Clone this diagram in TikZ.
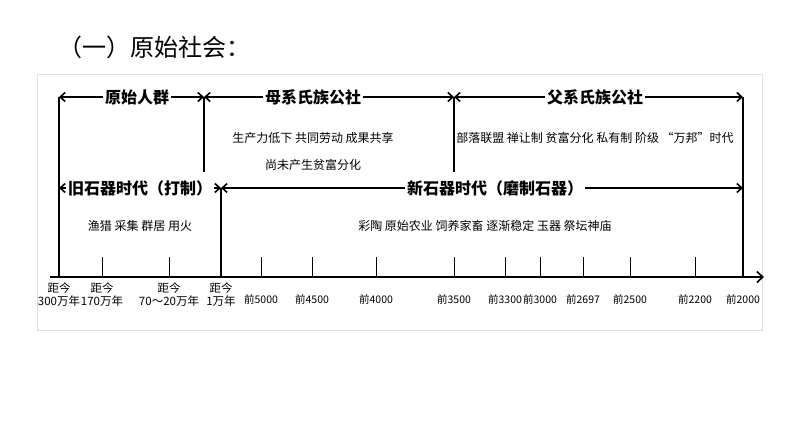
\documentclass[tikz,border=0pt]{standalone}
\usepackage{fontspec}
\setmainfont{Liberation Serif}
\newfontfamily\cjk{Noto Sans CJK SC}
\usetikzlibrary{arrows.meta}
\begin{document}
\begin{tikzpicture}[x=1pt,y=-1pt,
  ln/.style={line width=1.6pt},
  ar/.style={ln,-{Straight Barb[length=5pt,width=9pt]}},
  lab/.style={fill=white,inner sep=2pt,font=\cjk\fontsize{16}{16}\selectfont\bfseries},
  txt/.style={font=\cjk\fontsize{12}{13}\selectfont},
  tl/.style={font=\cjk\fontsize{11.5}{13}\selectfont,align=center,anchor=north,inner sep=0pt}]
\useasboundingbox (0,0) rectangle (794,447);
\fill[white] (0,0) rectangle (794,447);
\draw[gray!25,line width=1pt] (37,74) rectangle (762,330);
\node[anchor=west,font=\cjk\fontsize{24}{24}\selectfont] (title) at (55,47) {（一）原始社会：};
% axis
\coordinate (a0) at (50,277); \coordinate (a1) at (764,277);
\draw[ln,-{Straight Barb[length=6pt,width=11pt]}] (a0) -- (a1);
\foreach \x in {102,169,261,312,376,454,505,540,583,630,695}{\draw[line width=0.8pt] (\x,257) -- (\x,277);}
\coordinate (p59t) at (59,97); \coordinate (p59b) at (59,277);
\coordinate (p204t) at (204,97); \coordinate (p204b) at (204,172);
\coordinate (p454t) at (454,97); \coordinate (p454b) at (454,172);
\coordinate (p743t) at (743,97); \coordinate (p743b) at (743,277);
\coordinate (p221t) at (221,188); \coordinate (p221b) at (221,277);
\coordinate (q59) at (59,188); \coordinate (q743) at (743,188);
\draw[ln] (p59t) -- (p59b); \draw[ln] (p204t)--(p204b); \draw[ln] (p454t)--(p454b);
\draw[ln] (p743t)--(p743b); \draw[ln] (p221t)--(p221b);
% row 1
\draw[ar] (137,97) -- (p59t); \draw[ar] (137,97) -- (p204t);
\draw[ar] (313,97) -- (p204t); \draw[ar] (313,97) -- (p454t);
\draw[ar] (595,97) -- (p454t); \draw[ar] (595,97) -- (p743t);
\node[lab] (l1) at (137,97) {原始人群};
\node[lab] (l2) at (313,97) {母系氏族公社};
\node[lab] (l3) at (595,97) {父系氏族公社};
% row 2
\draw[ar] (140,188) -- (q59); \draw[ar] (140,188) -- (p221t);
\draw[ar] (495,188) -- (p221t); \draw[ar] (495,188) -- (q743);
\node[lab] (l4) at (140,188) {旧石器时代（打制）};
\node[lab] (l5) at (495,188) {新石器时代（磨制石器）};
% texts
\node[txt] (t1) at (313,138) {生产力低下 共同劳动 成果共享};
\node[txt] (t2) at (313,165) {尚未产生贫富分化};
\node[txt] (t3) at (595,138) {部落联盟 禅让制 贫富分化 私有制 阶级 “万邦”时代};
\node[txt] (t4) at (140,226) {渔猎 采集 群居 用火};
\node[txt] (t5) at (485,226) {彩陶 原始农业 饲养家畜 逐渐稳定 玉器 祭坛神庙};
% tick labels
\foreach \x/\t in {59/{距今\\300万年},102/{距今\\170万年},169/{距今\\70～20万年},221/{距今\\1万年}}
  {\node[tl] at (\x,283) {\t};}
\foreach \x/\t in {261/5000,312/4500,376/4000,454/3500,505/3300,540/3000,583/2697,630/2500,695/2200,743/2000}
  {\node[tl,font=\cjk\fontsize{10.5}{12}\selectfont] at (\x,294) {前\t};}
\end{tikzpicture}
\end{document}
